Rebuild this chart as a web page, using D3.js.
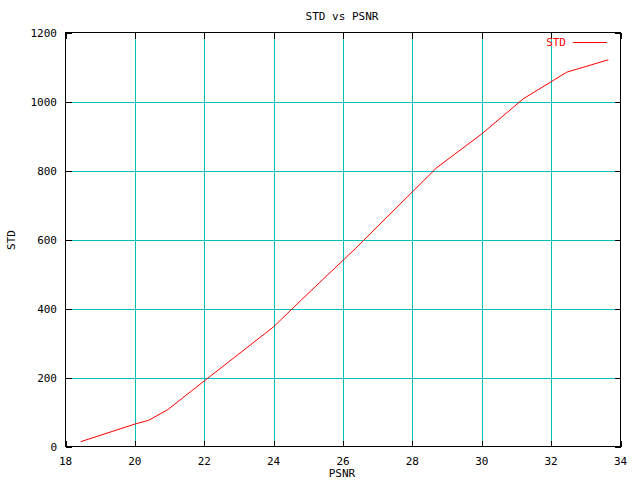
<!DOCTYPE html>
<html><head><meta charset="utf-8">
<script src="https://cdn.jsdelivr.net/npm/d3@7"></script>
<style>body{margin:0;background:#fff}svg{display:block}text{font-family:"DejaVu Sans Mono","Liberation Mono",monospace;font-size:11px}</style>
</head><body>
<script>
const psnr = [18.44, 20.0, 20.4, 20.95, 22.0, 24.0, 24.8, 26.35, 27.85, 28.7, 30.0, 31.2, 32.45, 33.65];
const stdv = [14, 65, 76, 107, 190, 347, 425, 573, 723, 808, 906, 1008, 1085, 1121];
const xTicks = [18, 20, 22, 24, 26, 28, 30, 32, 34];
const yTicks = [0, 200, 400, 600, 800, 1000, 1200];
const title = "STD vs PSNR", xLabel = "PSNR", yLabel = "STD", seriesName = "STD";

const W = 640, H = 480;
const L = 65.5, R = 620.5, T = 32.5, B = 446.5;
const svg = d3.select("body").append("svg").attr("width", W).attr("height", H);
const x = d3.scaleLinear().domain([18, 34]).range([L, R]);
const y = d3.scaleLinear().domain([0, 1200]).range([B, T]);
const grid = "#00c0c0";
const tl = 6;

// grid lines
svg.append("g").selectAll("line").data(xTicks.filter(t => t > 18 && t < 34)).join("line")
  .attr("x1", d => Math.round(x(d)) + 0.5).attr("x2", d => Math.round(x(d)) + 0.5)
  .attr("y1", T).attr("y2", B).attr("stroke", grid).attr("shape-rendering", "crispEdges");
svg.append("g").selectAll("line").data(yTicks.filter(t => t > 0 && t < 1200)).join("line")
  .attr("y1", d => Math.round(y(d)) + 0.5).attr("y2", d => Math.round(y(d)) + 0.5)
  .attr("x1", L).attr("x2", R).attr("stroke", grid).attr("shape-rendering", "crispEdges");

// axes with inward ticks (mirrored)
const ax = (g) => g.selectAll(".domain").remove();
svg.append("g").attr("transform", `translate(0,${B})`)
  .call(d3.axisTop(x).tickValues(xTicks).tickSize(tl).tickFormat("")).call(ax);
svg.append("g").attr("transform", `translate(0,${T})`)
  .call(d3.axisBottom(x).tickValues(xTicks).tickSize(tl).tickFormat("")).call(ax);
svg.append("g").attr("transform", `translate(${L},0)`)
  .call(d3.axisRight(y).tickValues(yTicks).tickSize(tl).tickFormat("")).call(ax);
svg.append("g").attr("transform", `translate(${R},0)`)
  .call(d3.axisLeft(y).tickValues(yTicks).tickSize(tl).tickFormat("")).call(ax);
svg.selectAll(".tick line").attr("stroke", "#000").attr("shape-rendering", "crispEdges");

// tick labels
svg.append("g").selectAll("text").data(xTicks).join("text")
  .attr("x", d => x(d)).attr("y", 465).attr("text-anchor", "middle").text(d => d);
svg.append("g").selectAll("text").data(yTicks).join("text")
  .attr("x", 57).attr("y", d => y(d) + 4).attr("text-anchor", "end").text(d => d);

// border
svg.append("rect").attr("x", L).attr("y", T).attr("width", R - L).attr("height", B - T)
  .attr("fill", "none").attr("stroke", "#000").attr("shape-rendering", "crispEdges");

// line
svg.append("path").datum(psnr.map((p, i) => [p, stdv[i]]))
  .attr("d", d3.line().x(d => x(d[0])).y(d => y(d[1])))
  .attr("fill", "none").attr("stroke", "#ff0000").attr("stroke-width", 1);

// labels
svg.append("text").attr("x", 342).attr("y", 20).attr("text-anchor", "middle").text(title);
svg.append("text").attr("x", 342).attr("y", 477).attr("text-anchor", "middle").text(xLabel);
svg.append("text").attr("transform", "translate(15,240) rotate(-90)").attr("text-anchor", "middle").text(yLabel);

// legend
svg.append("text").attr("x", 566).attr("y", 46).attr("text-anchor", "end").attr("fill", "#ff0000").text(seriesName);
svg.append("line").attr("x1", 573).attr("x2", 607).attr("y1", 42.5).attr("y2", 42.5)
  .attr("stroke", "#ff0000").attr("shape-rendering", "crispEdges");
</script>
</body></html>
